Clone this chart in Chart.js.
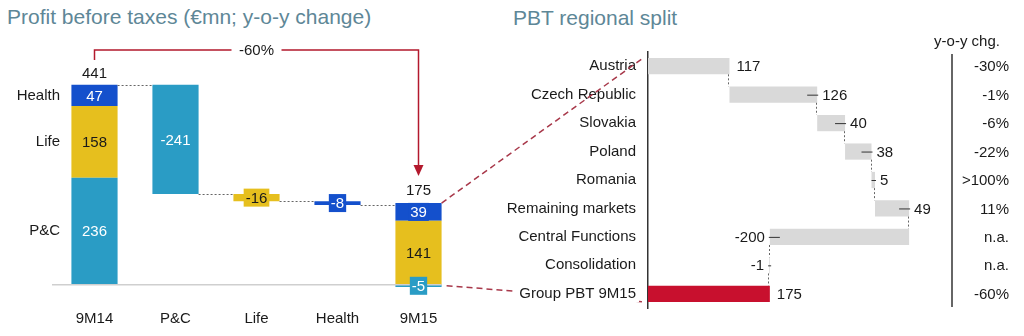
<!DOCTYPE html>
<html>
<head>
<meta charset="utf-8">
<script src="https://cdn.jsdelivr.net/npm/chart.js@4.4.1/dist/chart.umd.min.js"></script>
<style>
  body { margin: 0; background: #fff; width: 1024px; height: 336px; overflow: hidden; position: relative; font-family: 'Liberation Sans', Arial, sans-serif; }
  canvas { position: absolute; top: 0; }
  .title { position: absolute; font-size: 21px; line-height: 24px; color: #5e8797; white-space: nowrap; }
</style>
</head>
<body>
<div class="title" style="left:7px; top:5px;">Profit before taxes (€mn; y-o-y change)</div>
<div class="title" style="left:513px; top:6px;">PBT regional split</div>
<canvas id="pbtChart" width="460" height="336" style="left:0"></canvas>
<canvas id="regionChart" width="574" height="336" style="left:450px"></canvas>
<canvas id="linkLayer" width="1024" height="336" style="left:0; pointer-events:none"></canvas>
<script>
// left panel: 9M14 -> 9M15 bridge by segment
const bridgeLabels = ['9M14', 'P&C', 'Life', 'Health', '9M15'];
const segments = ['P&C', 'Life', 'Health'];
const segColors = ['#2a9cc5', '#e6bf1e', '#1450cc'];
const segText = ['#ffffff', '#1a1a1a', '#ffffff'];
const pbt9M14 = [236, 158, 47];
const segChange = [-241, -16, -8];
const pbt9M15 = [-5, 141, 39];
const totalLabels = ['441', '175'];
const totalChange = '-60%';

// right panel: regional split
const regions = ['Austria', 'Czech Republic', 'Slovakia', 'Poland', 'Romania',
  'Remaining markets', 'Central Functions', 'Consolidation', 'Group PBT 9M15'];
const regionPbt = [117, 126, 40, 38, 5, 49, -200, -1, 175];
const yoyChg = ['-30%', '-1%', '-6%', '-22%', '>100%', '11%', 'n.a.', 'n.a.', '-60%'];

const FONT = "'Liberation Sans', Arial, sans-serif";
const DARK = '#1a1a1a';
const RED = '#b3192d';

// build floating bars for the bridge
const bridgeData = segments.map(() => bridgeLabels.map(() => null));
const bridgeValues = segments.map(() => bridgeLabels.map(() => null));
let level = 0;
pbt9M14.forEach((v, k) => {
  bridgeData[k][0] = [level, level + v];
  bridgeValues[k][0] = v;
  level += v;
});
const levels = [level];
segChange.forEach((d, k) => {
  bridgeData[k][k + 1] = [level + d, level];
  bridgeValues[k][k + 1] = d;
  level += d;
  levels.push(level);
});
let pos = 0, neg = 0;
pbt9M15.forEach((v, k) => {
  if (v < 0) { bridgeData[k][4] = [neg + v, neg]; neg += v; }
  else { bridgeData[k][4] = [pos, pos + v]; pos += v; }
  bridgeValues[k][4] = v;
});

const bridgeDecor = {
  id: 'bridgeDecor',
  afterDatasetsDraw(chart) {
    const { ctx, scales: { x, y } } = chart;
    const half = chart.getDatasetMeta(0).data[0].width / 2;
    const cx = i => x.getPixelForValue(i);
    const y0 = y.getPixelForValue(0);
    ctx.save();

    // zero line
    ctx.strokeStyle = '#cfcfcf';
    ctx.lineWidth = 1.5;
    ctx.beginPath();
    ctx.moveTo(x.left - 2, y0);
    ctx.lineTo(cx(4) + half, y0);
    ctx.stroke();

    // dotted connectors between steps
    ctx.strokeStyle = '#666';
    ctx.lineWidth = 1;
    ctx.setLineDash([2, 2]);
    levels.forEach((lv, i) => {
      const py = Math.round(y.getPixelForValue(lv)) + 0.5;
      ctx.beginPath();
      ctx.moveTo(cx(i) + half, py);
      ctx.lineTo(cx(i + 1) - half, py);
      ctx.stroke();
    });
    ctx.setLineDash([]);

    // segment values, boxed when the bar is too thin
    ctx.font = '15px ' + FONT;
    ctx.textAlign = 'center';
    ctx.textBaseline = 'middle';
    bridgeData.forEach((row, k) => {
      row.forEach((r, i) => {
        if (!r) return;
        const top = y.getPixelForValue(r[1]);
        const bot = y.getPixelForValue(r[0]);
        const my = (top + bot) / 2;
        const txt = String(bridgeValues[k][i]);
        if (bot - top < 18) {
          const w = ctx.measureText(txt).width + 4;
          ctx.fillStyle = segColors[k];
          ctx.fillRect(cx(i) - w / 2, my - 9, w, 18);
        }
        ctx.fillStyle = segText[k];
        ctx.fillText(txt, cx(i), my + 1);
      });
    });

    // totals above the end bars
    ctx.fillStyle = DARK;
    ctx.fillText(totalLabels[0], cx(0), y.getPixelForValue(levels[0]) - 11);
    ctx.fillText(totalLabels[1], cx(4), y.getPixelForValue(pos) - 12);

    // segment names beside 9M14
    ctx.textAlign = 'right';
    bridgeData.forEach((row, k) => {
      const my = (y.getPixelForValue(row[0][0]) + y.getPixelForValue(row[0][1])) / 2;
      ctx.fillText(segments[k], x.left + 6, my);
    });

    // y-o-y change bracket with arrow
    const by = 50;
    const ax = cx(4);
    const tip = y.getPixelForValue(pos) - 27;
    const mid = (cx(0) + ax) / 2;
    ctx.strokeStyle = RED;
    ctx.fillStyle = RED;
    ctx.lineWidth = 1.5;
    ctx.beginPath();
    ctx.moveTo(cx(0), by + 10);
    ctx.lineTo(cx(0), by);
    ctx.lineTo(mid - 25, by);
    ctx.moveTo(mid + 25, by);
    ctx.lineTo(ax, by);
    ctx.lineTo(ax, tip - 9);
    ctx.stroke();
    ctx.beginPath();
    ctx.moveTo(ax - 5, tip - 11);
    ctx.lineTo(ax + 5, tip - 11);
    ctx.lineTo(ax, tip);
    ctx.closePath();
    ctx.fill();
    ctx.fillStyle = DARK;
    ctx.textAlign = 'center';
    ctx.fillText(totalChange, mid, by + 1);
    ctx.restore();
  }
};

const pbtChart = new Chart(document.getElementById('pbtChart'), {
  type: 'bar',
  data: {
    labels: bridgeLabels,
    datasets: segments.map((s, k) => ({
      label: s,
      data: bridgeData[k],
      backgroundColor: segColors[k],
      barPercentage: 0.57,
      categoryPercentage: 1
    }))
  },
  options: {
    responsive: false,
    animation: false,
    layout: { padding: { left: 54, right: 1, top: 58, bottom: 0 } },
    plugins: { legend: { display: false }, tooltip: { enabled: false } },
    scales: {
      x: {
        stacked: true,
        grid: { display: false, drawTicks: false },
        border: { display: false },
        ticks: { color: DARK, font: { size: 15, family: FONT }, padding: 14 },
        afterFit(scale) { scale.height = 40; }
      },
      y: { display: false, min: -25, max: 500 }
    }
  },
  plugins: [bridgeDecor]
});

// running level for the regional waterfall
const regionBars = [];
let run = 0;
regionPbt.forEach((v, i) => {
  if (i === regionPbt.length - 1) { regionBars.push([0, v]); return; }
  regionBars.push([run, run + v]);
  run += v;
});

const regionDecor = {
  id: 'regionDecor',
  afterDatasetsDraw(chart) {
    const { ctx, chartArea, scales: { x, y } } = chart;
    const th = chart.getDatasetMeta(0).data[0].height;
    ctx.save();

    // dotted links between consecutive bars
    ctx.strokeStyle = '#666';
    ctx.lineWidth = 1;
    ctx.setLineDash([2, 2]);
    for (let i = 0; i < regionBars.length - 1; i++) {
      const xe = Math.round(x.getPixelForValue(regionBars[i][1])) - 0.5;
      ctx.beginPath();
      ctx.moveTo(xe, y.getPixelForValue(i) + th / 2);
      ctx.lineTo(xe, y.getPixelForValue(i + 1) - th / 2);
      ctx.stroke();
    }
    ctx.setLineDash([]);

    // value labels with short leaders
    ctx.font = '15px ' + FONT;
    ctx.textBaseline = 'middle';
    ctx.fillStyle = DARK;
    ctx.strokeStyle = '#333';
    regionBars.forEach((b, i) => {
      const v = regionPbt[i];
      const py = y.getPixelForValue(i);
      const xe = x.getPixelForValue(b[1]);
      const lead = i > 0 && i < regionBars.length - 1;
      const dir = v < 0 ? -1 : 1;
      if (lead) {
        const len = Math.max(2, Math.min(10, Math.abs(xe - x.getPixelForValue(b[0]))));
        ctx.beginPath();
        ctx.moveTo(xe + dir, py + 0.5);
        ctx.lineTo(xe - dir * len, py + 0.5);
        ctx.stroke();
      }
      ctx.textAlign = dir > 0 ? 'left' : 'right';
      ctx.fillText(String(v), xe + dir * (lead ? 5 : 7), py + 1);
    });

    // y-o-y change column
    const colX = 502;
    ctx.strokeStyle = '#333';
    ctx.lineWidth = 1.5;
    ctx.beginPath();
    ctx.moveTo(colX, chartArea.top + 2);
    ctx.lineTo(colX, chartArea.bottom - 1);
    ctx.stroke();
    ctx.textAlign = 'center';
    ctx.fillText('y-o-y chg.', 517, 42);
    ctx.textAlign = 'right';
    yoyChg.forEach((t, i) => ctx.fillText(t, 559, y.getPixelForValue(i) + 1));
    ctx.restore();
  }
};

const regionChart = new Chart(document.getElementById('regionChart'), {
  type: 'bar',
  data: {
    labels: regions,
    datasets: [{
      label: 'PBT',
      data: regionBars,
      backgroundColor: regions.map((r, i) => i === regions.length - 1 ? '#c8102e' : '#d9d9d9'),
      barPercentage: 0.57,
      categoryPercentage: 1
    }]
  },
  options: {
    indexAxis: 'y',
    responsive: false,
    animation: false,
    layout: { padding: { left: 0, right: 94, top: 52, bottom: 28 } },
    plugins: { legend: { display: false }, tooltip: { enabled: false } },
    scales: {
      x: { display: false, min: 0, max: 405 },
      y: {
        grid: { display: false, drawTicks: false },
        border: { display: true, color: '#333', width: 1.5 },
        ticks: { color: DARK, font: { size: 15, family: FONT }, padding: 12 },
        afterFit(scale) { scale.width = 198; }
      }
    }
  },
  plugins: [regionDecor]
});

// dashed red links from the 9M15 bar to the regional split
(function drawLinks() {
  const ctx = document.getElementById('linkLayer').getContext('2d');
  const lx = pbtChart.scales.x, ly = pbtChart.scales.y;
  const rx = regionChart.scales.x, ry = regionChart.scales.y;
  const th = regionChart.getDatasetMeta(0).data[0].height;
  const half = pbtChart.getDatasetMeta(0).data[4].width / 2;
  const barRight = lx.getPixelForValue(4) + half;
  const offset = 450;
  const last = regions.length - 1;
  ctx.strokeStyle = '#a8384a';
  ctx.lineWidth = 1.5;
  ctx.setLineDash([6, 4]);
  ctx.beginPath();
  ctx.moveTo(barRight, ly.getPixelForValue(pos));
  ctx.lineTo(offset + rx.left - 5, ry.getPixelForValue(0) - th / 2);
  ctx.moveTo(barRight + 5, ly.getPixelForValue(0) + 1);
  ctx.lineTo(offset + rx.left - 3, ry.getPixelForValue(last) + th / 2);
  ctx.stroke();

  // keep the group label readable where the link passes behind it
  ctx.font = '15px ' + FONT;
  const w = ctx.measureText(regions[last]).width;
  const right = offset + rx.left - 12;
  const cy = ry.getPixelForValue(last);
  ctx.clearRect(right - w - 3, cy - 9, w + 6, 17);
})();
</script>
</body>
</html>
